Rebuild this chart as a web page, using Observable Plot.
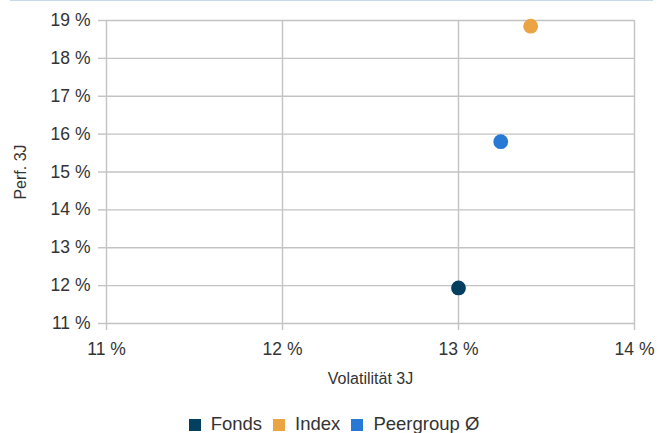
<!DOCTYPE html>
<html>
<head>
<meta charset="utf-8">
<script src="https://cdn.jsdelivr.net/npm/d3@7"></script>
<script src="https://cdn.jsdelivr.net/npm/@observablehq/plot@0.6"></script>
<style>
  body { margin: 0; background: #fff; font-family: "Liberation Sans", Arial, sans-serif; }
  #wrap { position: relative; width: 668px; height: 433px; overflow: hidden; }
  #chart { position: absolute; left: 0; top: 0; }
  #topline { position: absolute; left: 10px; top: 0; width: 643px; height: 1px; background: #c6d9ef; }
  #legend { position: absolute; left: 0; top: 413px; width: 668px; text-align: center; font-size: 18.5px; line-height: 21px; color: #333; white-space: nowrap; }
  #legend span.item { display: inline-block; margin: 0 5.5px; }
  #legend span.sw { display: inline-block; width: 12px; height: 12px; margin-right: 10px; vertical-align: -1px; }
</style>
</head>
<body>
<div id="wrap">
  <div id="chart"></div>
  <div id="topline"></div>
  <div id="legend"></div>
</div>
<script>
const series = ["Fonds", "Index", "Peergroup Ø"];
const volatility = [13.0, 13.41, 13.24];
const performance = [11.94, 18.85, 15.8];
const colors = ["#033f5e", "#eaa444", "#2878d6"];
const xTicks = [11, 12, 13, 14];
const yTicks = [11, 12, 13, 14, 15, 16, 17, 18, 19];
const xTitle = "Volatilität 3J";
const yTitle = "Perf. 3J";

const data = series.map((s, i) => ({ name: s, x: volatility[i], y: performance[i], c: colors[i] }));
const pct = d => `${d} %`;
const grid = "#c3c3c3";

const chart = Plot.plot({
  width: 668,
  height: 395,
  marginLeft: 106,
  marginRight: 34,
  marginTop: 20,
  marginBottom: 72,
  style: { fontFamily: '"Liberation Sans", Arial, sans-serif', color: "#333", background: "transparent", fontSize: "17.5px" },
  x: { domain: [11, 14] },
  y: { domain: [11, 19] },
  marks: [
    Plot.gridX(xTicks, { stroke: grid, strokeOpacity: 1, strokeWidth: 1.4 }),
    Plot.gridY(yTicks, { stroke: grid, strokeOpacity: 1, strokeWidth: 1.4 }),
    Plot.axisX(xTicks, { tickFormat: pct, tickSize: 7, tickPadding: 12, stroke: grid, strokeWidth: 1.4,
      label: xTitle, labelAnchor: "center", labelArrow: "none", labelOffset: 60 }),
    Plot.axisY(yTicks, { tickFormat: pct, tickSize: 8, tickPadding: 8, stroke: grid, strokeWidth: 1.4,
      label: yTitle, labelAnchor: "center", labelArrow: "none", labelOffset: 92 }),
    Plot.dot(data, { x: "x", y: "y", r: 7.4, fill: d => d.c, stroke: "none" })
  ]
});
chart.querySelectorAll("[aria-label='x-axis label'], [aria-label='y-axis label']").forEach(g => {
  g.setAttribute("font-size", "16");
  g.querySelectorAll("text").forEach(t => t.setAttribute("font-size", "16"));
});
document.getElementById("chart").appendChild(chart);

const legend = document.getElementById("legend");
series.forEach((s, i) => {
  const it = document.createElement("span");
  it.className = "item";
  it.innerHTML = `<span class="sw" style="background:${colors[i]}"></span>${s}`;
  legend.appendChild(it);
});
</script>
</body>
</html>
